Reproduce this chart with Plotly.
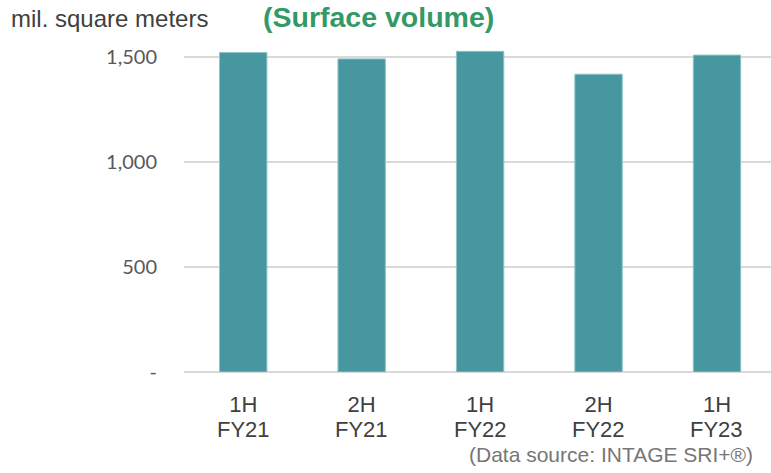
import plotly.graph_objects as go

halves = ["1H", "2H", "1H", "2H", "1H"]
years = ["FY21", "FY21", "FY22", "FY22", "FY23"]
values = [1521, 1491, 1527, 1418, 1509]
y_tickvals = [0, 500, 1000, 1500]
y_ticktext = ["-", "500", "1,000", "1,500"]

L, R, T, B = 184, 0, 36, 101
W, H = 771, 473
pw = W - L - R
ph = H - T - B


def px_x(x):
    return (x - L) / pw


def px_y(y):
    return (H - y - B) / ph


xs = list(range(len(halves)))

fig = go.Figure()
fig.add_trace(go.Bar(
    x=xs,
    y=values,
    width=0.4,
    marker=dict(color="#4697a0", line=dict(color="#8ec3c8", width=1)),
    hoverinfo="y",
))

label_font = dict(family="Liberation Sans, Arial", size=22, color="#404040")

annotations = [
    dict(text="mil. square meters", x=px_x(9), y=px_y(19), xref="paper", yref="paper",
         showarrow=False, xanchor="left", yanchor="middle",
         font=dict(family="Liberation Sans, Arial", size=24, color="#404040")),
    dict(text="<b>(Surface volume)</b>", x=px_x(261), y=px_y(17), xref="paper", yref="paper",
         showarrow=False, xanchor="left", yanchor="middle",
         font=dict(family="Liberation Sans, Arial", size=28.5, color="#339966")),
    dict(text="(Data source: INTAGE SRI+®)", x=px_x(755), y=px_y(454), xref="paper", yref="paper",
         showarrow=False, xanchor="right", yanchor="middle",
         font=dict(family="Liberation Sans, Arial", size=21, color="#767676")),
]
for xi, yr in zip(xs, years):
    annotations.append(dict(text=yr, x=xi, y=px_y(429), xref="x", yref="paper",
                            showarrow=False, xanchor="center", yanchor="middle",
                            font=label_font))

fig.update_layout(
    width=W, height=H,
    margin=dict(l=L, r=R, t=T, b=B, autoexpand=False),
    plot_bgcolor="white", paper_bgcolor="white",
    showlegend=False,
    xaxis=dict(
        range=[-0.5, 4.456],
        tickvals=xs,
        ticktext=halves,
        tickfont=label_font,
        showgrid=False, zeroline=False, showline=False,
        ticks="outside", ticklen=13, tickcolor="rgba(0,0,0,0)",
        automargin=False,
    ),
    yaxis=dict(
        range=[0, 1600],
        tickvals=y_tickvals,
        ticktext=y_ticktext,
        tickfont=dict(family="Lato", size=20, color="#595959"),
        showgrid=True, gridcolor="#d9d9d9", gridwidth=1.5,
        zeroline=True, zerolinecolor="#d9d9d9", zerolinewidth=2,
        showline=False,
        ticks="outside", ticklen=22, tickcolor="rgba(0,0,0,0)",
        automargin=False,
    ),
    annotations=annotations,
)

fig.write_html("out.html", config={"displayModeBar": False},
               post_script="document.body.style.margin='0';document.body.style.overflow='hidden';")
